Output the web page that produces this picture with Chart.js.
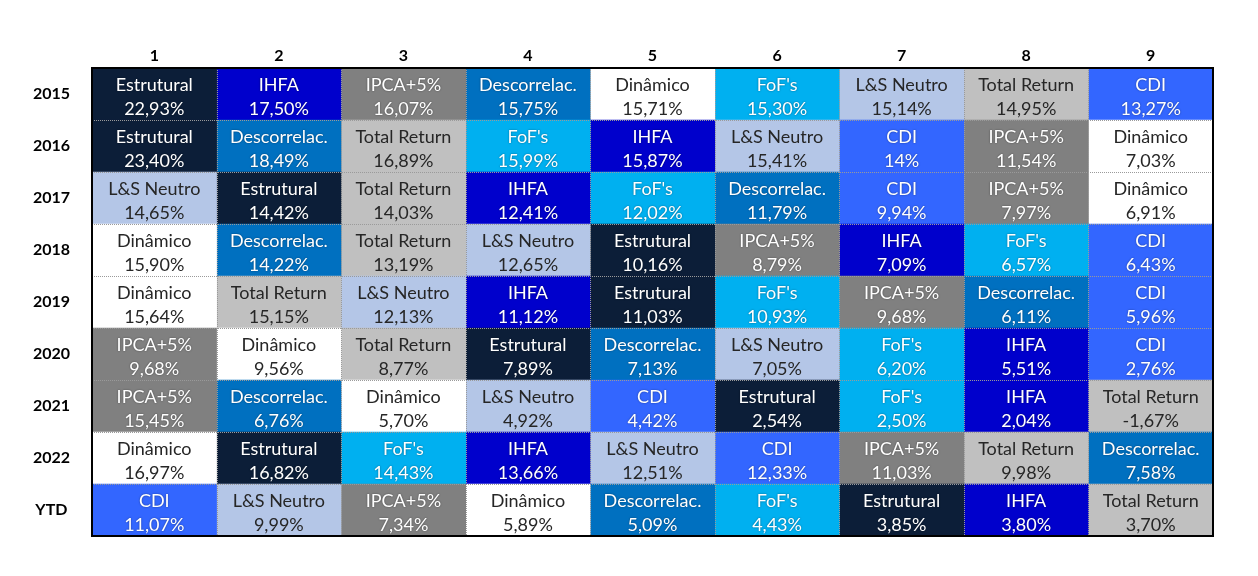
<!DOCTYPE html>
<html>
<head>
<meta charset="utf-8">
<script src="https://cdn.jsdelivr.net/npm/chart.js@4"></script>
<style>
  html, body { margin: 0; padding: 0; background: #fff; }
  #wrap { width: 1258px; height: 576px; }
</style>
</head>
<body>
<div id="wrap"><canvas id="rankChart"></canvas></div>
<script>
const years = ['2015', '2016', '2017', '2018', '2019', '2020', '2021', '2022', 'YTD'];
const ranks = ['1', '2', '3', '4', '5', '6', '7', '8', '9'];

// fund name in each rank position, per year
const rankNames = [
    ['Estrutural', 'IHFA', 'IPCA+5%', 'Descorrelac.', 'Dinâmico', "FoF's", 'L&S Neutro', 'Total Return', 'CDI'],
    ['Estrutural', 'Descorrelac.', 'Total Return', "FoF's", 'IHFA', 'L&S Neutro', 'CDI', 'IPCA+5%', 'Dinâmico'],
    ['L&S Neutro', 'Estrutural', 'Total Return', 'IHFA', "FoF's", 'Descorrelac.', 'CDI', 'IPCA+5%', 'Dinâmico'],
    ['Dinâmico', 'Descorrelac.', 'Total Return', 'L&S Neutro', 'Estrutural', 'IPCA+5%', 'IHFA', "FoF's", 'CDI'],
    ['Dinâmico', 'Total Return', 'L&S Neutro', 'IHFA', 'Estrutural', "FoF's", 'IPCA+5%', 'Descorrelac.', 'CDI'],
    ['IPCA+5%', 'Dinâmico', 'Total Return', 'Estrutural', 'Descorrelac.', 'L&S Neutro', "FoF's", 'IHFA', 'CDI'],
    ['IPCA+5%', 'Descorrelac.', 'Dinâmico', 'L&S Neutro', 'CDI', 'Estrutural', "FoF's", 'IHFA', 'Total Return'],
    ['Dinâmico', 'Estrutural', "FoF's", 'IHFA', 'L&S Neutro', 'CDI', 'IPCA+5%', 'Total Return', 'Descorrelac.'],
    ['CDI', 'L&S Neutro', 'IPCA+5%', 'Dinâmico', 'Descorrelac.', "FoF's", 'Estrutural', 'IHFA', 'Total Return']
];

// return (%) in each rank position, per year
const rankReturns = [
    [22.93, 17.50, 16.07, 15.75, 15.71, 15.30, 15.14, 14.95, 13.27],
    [23.40, 18.49, 16.89, 15.99, 15.87, 15.41, 14, 11.54, 7.03],
    [14.65, 14.42, 14.03, 12.41, 12.02, 11.79, 9.94, 7.97, 6.91],
    [15.90, 14.22, 13.19, 12.65, 10.16, 8.79, 7.09, 6.57, 6.43],
    [15.64, 15.15, 12.13, 11.12, 11.03, 10.93, 9.68, 6.11, 5.96],
    [9.68, 9.56, 8.77, 7.89, 7.13, 7.05, 6.20, 5.51, 2.76],
    [15.45, 6.76, 5.70, 4.92, 4.42, 2.54, 2.50, 2.04, -1.67],
    [16.97, 16.82, 14.43, 13.66, 12.51, 12.33, 11.03, 9.98, 7.58],
    [11.07, 9.99, 7.34, 5.89, 5.09, 4.43, 3.85, 3.80, 3.70]
];

const fundColors = {
    'Estrutural': '#0c1e38',
    'IHFA': '#0000cc',
    'IPCA+5%': '#808080',
    'Descorrelac.': '#0070c0',
    'Dinâmico': '#ffffff',
    "FoF's": '#00b0f0',
    'L&S Neutro': '#b4c6e7',
    'Total Return': '#c0c0c0',
    'CDI': '#3366ff'
};
const darkText = ['Dinâmico', 'L&S Neutro', 'Total Return'];

function fmt(v) {
    if (Number.isInteger(v)) return v + '%';
    return v.toFixed(2).replace('.', ',') + '%';
}

const datasets = ranks.map((r, c) => ({
    label: r,
    data: years.map(() => [c, c + 1]),
    backgroundColor: years.map((y, i) => fundColors[rankNames[i][c]]),
    borderWidth: 0,
    grouped: false,
    barPercentage: 1,
    categoryPercentage: 1
}));

const cellText = {
    id: 'cellText',
    afterDatasetsDraw(chart) {
        const ctx = chart.ctx;
        const xs = chart.scales.x, ys = chart.scales.y;
        const area = chart.chartArea;
        ctx.save();

        // dotted separators
        ctx.strokeStyle = '#9a9a9a';
        ctx.lineWidth = 1;
        ctx.setLineDash([1, 1]);
        for (let c = 1; c < ranks.length; c++) {
            const x = Math.round(xs.getPixelForValue(c)) + 0.5;
            ctx.beginPath();
            ctx.moveTo(x, area.top);
            ctx.lineTo(x, area.bottom);
            ctx.stroke();
        }
        for (let i = 1; i < years.length; i++) {
            const y = Math.round((ys.getPixelForValue(i - 1) + ys.getPixelForValue(i)) / 2) + 0.5;
            ctx.beginPath();
            ctx.moveTo(area.left, y);
            ctx.lineTo(area.right, y);
            ctx.stroke();
        }
        ctx.setLineDash([]);

        // cell labels
        ctx.textAlign = 'center';
        ctx.textBaseline = 'middle';
        ctx.font = '18px Lato, "Open Sans", sans-serif';
        chart.data.datasets.forEach((ds, c) => {
            chart.getDatasetMeta(c).data.forEach((bar, i) => {
                const name = rankNames[i][c];
                const dark = darkText.includes(name);
                const cx = (bar.x + bar.base) / 2;
                ctx.fillStyle = dark ? '#262626' : '#ffffff';
                ctx.shadowColor = dark ? 'rgba(0,0,0,0)' : 'rgba(0,0,0,0.45)';
                ctx.shadowBlur = dark ? 0 : 2;
                ctx.fillText(name, cx, bar.y - 9);
                ctx.fillText(fmt(rankReturns[i][c]), cx, bar.y + 15);
            });
        });
        ctx.shadowBlur = 0;
        ctx.shadowColor = 'rgba(0,0,0,0)';

        // outer frame
        ctx.strokeStyle = '#000';
        ctx.lineWidth = 2;
        ctx.strokeRect(area.left, area.top, area.right - area.left, area.bottom - area.top);
        ctx.restore();
    }
};

const ctx = document.getElementById('rankChart').getContext('2d');
new Chart(ctx, {
    type: 'bar',
    data: { labels: years, datasets: datasets },
    options: {
        indexAxis: 'y',
        responsive: true,
        maintainAspectRatio: false,
        animation: false,
        layout: { padding: { left: 12, right: 45, top: 0, bottom: 40 } },
        plugins: {
            legend: { display: false },
            tooltip: { enabled: false }
        },
        scales: {
            x: {
                position: 'top',
                min: 0,
                max: 9,
                afterBuildTicks: axis => {
                    axis.ticks = ranks.map((r, c) => ({ value: c + 0.5 }));
                },
                afterFit: axis => { axis.height = 68; },
                grid: { display: false, drawTicks: false },
                border: { display: false },
                ticks: {
                    padding: 3,
                    color: '#000',
                    font: { family: 'Lato, "Open Sans", sans-serif', size: 16, weight: 'bold' },
                    callback: v => ranks[Math.floor(v)]
                }
            },
            y: {
                type: 'category',
                afterFit: axis => { axis.width = 80; },
                grid: { display: false, drawTicks: false },
                border: { display: false },
                ticks: {
                    crossAlign: 'center',
                    padding: 22,
                    color: '#000',
                    font: { family: 'Lato, "Open Sans", sans-serif', size: 16, weight: 'bold' }
                }
            }
        }
    },
    plugins: [cellText]
});
</script>
</body>
</html>
